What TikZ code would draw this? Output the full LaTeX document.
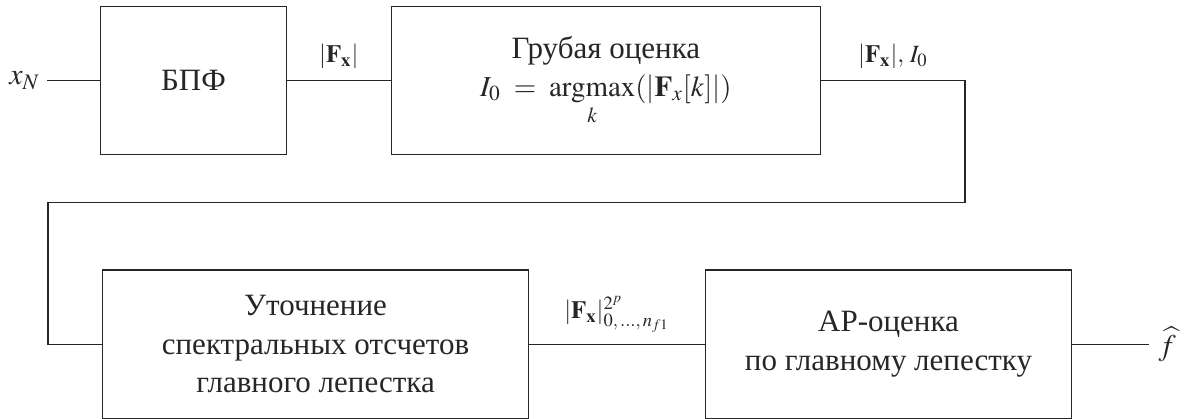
\documentclass[tikz,border=0pt]{standalone}
\usepackage{amsmath,amssymb}
\usepackage{mathptmx}
\usepackage{fontspec}
\setmainfont{Liberation Serif}
\usetikzlibrary{arrows.meta, positioning}

\begin{document}
\begin{tikzpicture}[auto,node distance=1.77cm,>=Stealth,line width=0.6pt,color=black!85,
	block/.style={draw,rectangle,minimum height=2.52cm,align=center,font=\fontsize{15}{18.5}\selectfont},
	lbl/.style={font=\fontsize{12}{14}\selectfont},
	io/.style={font=\fontsize{14.5}{16}\selectfont}]
	\useasboundingbox (0,0) rectangle (20.13,7.12);
	\node[block,minimum width=3.15cm] (fft) at (3.29,5.75) {БПФ};
	\node[block,minimum width=7.29cm,right=1.77cm of fft] (coarse) {Грубая оценка\\ {\fontsize{14}{16}\selectfont$\displaystyle I_0 \;=\; \operatorname*{argmax}_k(|\mathbf{F}_x[k]|)$}};
	\node[block,minimum width=7.24cm,below=1.94cm of fft.south west,anchor=north west,xshift=0.03cm] (refine) {Уточнение\\спектральных отсчетов\\главного лепестка};
	\node[block,minimum width=6.22cm,right=2.99cm of refine] (arest) {АР-оценка\\по главному лепестку};
	\coordinate[left=0.9cm of fft] (xin);
	\coordinate[right=1.31cm of arest] (fout);
	\node[io,left=0pt of xin] (xlbl) {$x_N$};
	\node[io,right=1pt of fout] (flbl) {$\widehat{f}$};
	\draw (xin) -- (fft);
	\draw (fft) -- node[lbl,above=2pt]{$|\mathbf{F}_\mathbf{x}|$} (coarse);
	\draw (coarse.east) -- ++(2.45,0) node[lbl,midway,above=2pt]{$|\mathbf{F}_\mathbf{x}|,\,I_0$} -- ++(0,-2.07) -| ([xshift=-0.92cm]refine.west) -- (refine);
	\draw (refine) -- node[lbl,above=2pt]{$|\mathbf{F}_\mathbf{x}|^{2^p}_{0,\,\ldots,\,n_{f1}}$} (arest);
	\draw (arest) -- (fout);
\end{tikzpicture}
\end{document}
